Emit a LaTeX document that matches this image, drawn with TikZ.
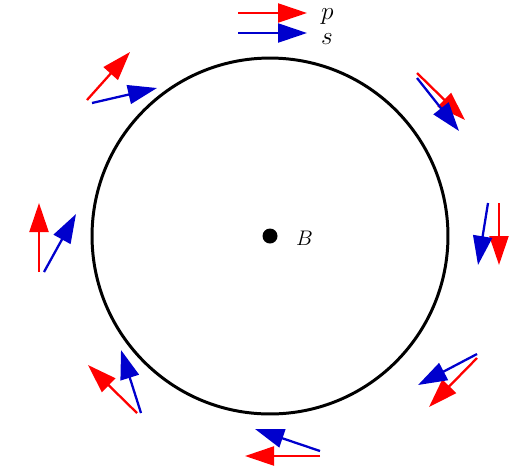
\documentclass[tikz,border=0pt]{standalone}
\usetikzlibrary{arrows.meta}
\definecolor{pred}{RGB}{255,0,0}
\definecolor{sblue}{RGB}{0,0,205}

\begin{document}
\begin{tikzpicture}[
  x=0.02cm, y=-0.02cm,
  vec/.style ={line width=1.3pt, -{Triangle[length=0.58cm, width=0.38cm]}},
  pvec/.style={vec, color=pred},
  svec/.style={vec, color=sblue},
  lbl/.style ={anchor=base west, font=\Large}]
\useasboundingbox (0,0) rectangle (523,468);

%% orbit and field
\draw[line width=1.7pt] (270,236) circle[radius=3.56cm];
\node[circle, fill=black, inner sep=0pt, minimum size=0.3cm] (field) at (270,236) {};
\node[anchor=base west, font=\large] (fieldlbl) at (290,245) {$B$};

%% legend
\draw[pvec] (238,13) -- (307,13);
\draw[svec] (238,33) -- (307,33);
\node[lbl] (plbl) at (315,19) {$p$};
\node[lbl] (slbl) at (315,44) {$s$};

%% momentum p around the orbit
\foreach \xa/\ya/\xb/\yb in {87/100/130/52, 417/73/465/120, 499/203/499/265,
    39/272/39/203, 477/358/429/407, 137/413/88/365, 320/456/245/456}
  \draw[pvec] (\xa,\ya) -- (\xb,\yb);

%% spin s around the orbit
\foreach \xa/\ya/\xb/\yb in {92/103/157/88, 417/78/459/131, 488/203/478/265,
    44/272/76/214, 477/354/418/385, 141/413/121/350, 320/451/255/429}
  \draw[svec] (\xa,\ya) -- (\xb,\yb);
\end{tikzpicture}
\end{document}
